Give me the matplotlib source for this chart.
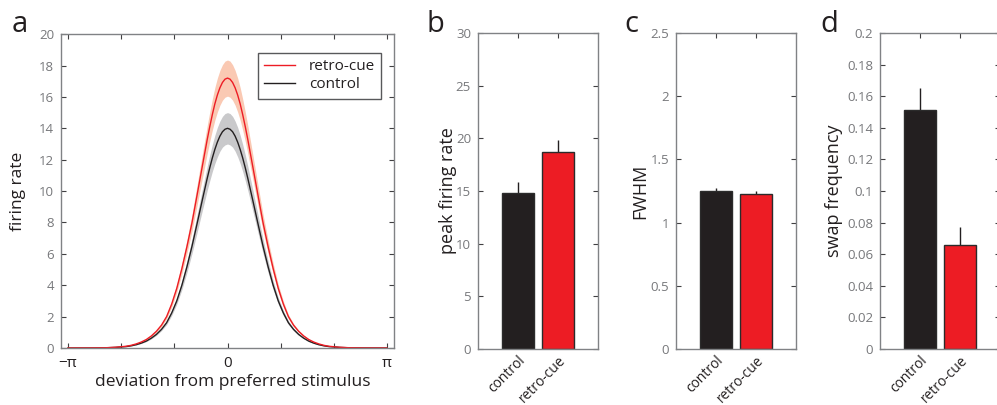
import numpy as np
import matplotlib

matplotlib.use("Agg")
import matplotlib.pyplot as plt
from matplotlib.ticker import FixedLocator

plt.rcParams["font.family"] = ["Open Sans", "DejaVu Sans"]

RED, BLACK = "#ED1C24", "#231F20"
RED_BAND, GREY_BAND = "#FAC9B3", "#C9C9CB"
TICK_GREY, SPINE_GREY = "#77787B", "#808285"

# tuning curves, read at half-axis points (curves are symmetric about 0)
dev_half = [0.0, 0.05, 0.1, 0.15, 0.2, 0.25, 0.3, 0.35, 0.4, 0.5, 0.6, 0.7, 0.8,
            0.9, 1.0, 1.1, 1.2, 1.3, 1.4, 1.5, 1.6, 1.7, 1.8, 1.9, 2.0, 2.2,
            2.4, 2.7, np.pi]
control_rate = [14.00, 13.94, 13.78, 13.50, 13.12, 12.65, 12.10, 11.48, 10.81,
                9.38, 7.92, 6.48, 5.17, 3.99, 3.00, 2.23, 1.61, 1.19, 0.87,
                0.63, 0.44, 0.31, 0.21, 0.14, 0.09, 0.04, 0.014, 0.004, 0.001]
control_sem = [1.00, 1.00, 0.98, 0.96, 0.94, 0.90, 0.86, 0.82, 0.77, 0.67,
               0.57, 0.46, 0.37, 0.28, 0.21, 0.16, 0.12, 0.08, 0.06, 0.045,
               0.03, 0.02, 0.015, 0.01, 0.007, 0.003, 0.001, 0.0, 0.0]
retro_rate = [17.20, 17.13, 16.92, 16.58, 16.12, 15.55, 14.86, 14.10, 13.28,
              11.52, 9.74, 7.98, 6.45, 5.05, 3.80, 2.80, 2.00, 1.46, 1.07,
              0.77, 0.54, 0.38, 0.26, 0.17, 0.11, 0.05, 0.017, 0.005, 0.001]
retro_sem = [1.15, 1.15, 1.13, 1.11, 1.08, 1.04, 0.99, 0.94, 0.89, 0.77,
             0.65, 0.53, 0.43, 0.34, 0.25, 0.19, 0.13, 0.10, 0.07, 0.05,
             0.036, 0.025, 0.017, 0.011, 0.007, 0.003, 0.001, 0.0, 0.0]

conditions = ["control", "retro-cue"]
peak_rate = [14.85, 18.7]
peak_rate_err = [1.0, 1.1]
fwhm = [1.25, 1.225]
fwhm_err = [0.022, 0.025]
swap_freq = [0.151, 0.066]
swap_freq_err = [0.014, 0.011]


def mirror(v, sign=1):
    v = np.asarray(v, dtype=float)
    return np.concatenate([sign * v[:0:-1], v])


def style_axes(ax):
    for s in ax.spines.values():
        s.set_color(SPINE_GREY)
        s.set_linewidth(1.0)
    ax.tick_params(which="both", direction="in", top=True, right=True,
                   length=3.5, width=0.8, color="#414042")
    ax.tick_params(axis="y", labelsize=9.5, labelcolor=TICK_GREY, pad=5)


fig = plt.figure(figsize=(9.97, 4.05), dpi=100)

# panel a
axA = fig.add_axes([0.0612, 0.1407, 0.334, 0.775])
x = mirror(dev_half, -1)
for rate, sem, line_c, band_c, lab in [
    (control_rate, control_sem, BLACK, GREY_BAND, "control"),
    (retro_rate, retro_sem, RED, RED_BAND, "retro-cue"),
]:
    m, s = mirror(rate), mirror(sem)
    axA.fill_between(x, m - s, m + s, color=band_c, lw=0, zorder=1)
    axA.plot(x, m, color=line_c, lw=1.0, zorder=2, label=lab)
axA.set_xlim(-3.28, 3.28)
axA.set_ylim(0, 20)
axA.set_yticks(range(0, 21, 2))
axA.set_xticks([-np.pi, 0, np.pi])
axA.set_xticklabels(["\u2212\u03c0", "0", "\u03c0"])
axA.xaxis.set_minor_locator(FixedLocator([k * np.pi / 3 for k in (-2, -1, 1, 2)]))
style_axes(axA)
axA.tick_params(axis="x", labelsize=11, labelcolor=BLACK, pad=6)
axA.set_ylabel("firing rate", fontsize=12.5, color=BLACK)
axA.yaxis.set_label_coords(-0.105, 0.5)
axA.set_xlabel("deviation from preferred stimulus", fontsize=12.5, color=BLACK)
axA.xaxis.set_label_coords(0.515, -0.082)
h, l = axA.get_legend_handles_labels()
leg = axA.legend(h[::-1], l[::-1], loc="upper right", bbox_to_anchor=(0.961, 0.939),
                 borderaxespad=0, fontsize=11, fancybox=False, edgecolor="#58595B",
                 framealpha=1, handlelength=2.0, borderpad=0.4, labelspacing=0.2,
                 handletextpad=0.9)
leg.get_frame().set_linewidth(1.0)
for t in leg.get_texts():
    t.set_color(BLACK)

# bar panels
bar_panels = [
    (0.4794, peak_rate, peak_rate_err, (0, 30), np.arange(0, 31, 5), "peak firing rate", -0.175),
    (0.678, fwhm, fwhm_err, (0, 2.5), np.arange(0, 2.51, 0.5), "FWHM", -0.225),
    (0.8826, swap_freq, swap_freq_err, (0, 0.2), np.arange(0, 0.201, 0.02), "swap frequency", -0.31),
]
for left, vals, errs, ylim, yt, ylab, lx in bar_panels:
    ax = fig.add_axes([left, 0.1383, 0.1204, 0.780])
    pos = [1, 2]
    ax.errorbar(pos, vals, yerr=[[0, 0], errs], fmt="none", ecolor=BLACK,
                elinewidth=1.0, capsize=0, zorder=1)
    ax.bar(pos, vals, width=0.8, color=[BLACK, RED], edgecolor="#2B2B2B",
           linewidth=1.0, zorder=2)
    ax.set_xlim(0, 3)
    ax.set_ylim(*ylim)
    ax.set_yticks(yt)
    ax.set_yticklabels([f"{v:g}" for v in yt])
    ax.set_xticks(pos)
    ax.set_xticklabels(conditions, rotation=45, ha="right", rotation_mode="anchor")
    style_axes(ax)
    ax.tick_params(axis="x", labelsize=10, labelcolor=BLACK, pad=3)
    ax.set_ylabel(ylab, fontsize=13, color=BLACK)
    ax.yaxis.set_label_coords(lx, 0.5)

for lab, xx in [("a", 0.012), ("b", 0.428), ("c", 0.626), ("d", 0.823)]:
    fig.text(xx, 0.975, lab, fontsize=21, va="top", ha="left", color=BLACK)

fig.savefig("out.png", dpi=100)
